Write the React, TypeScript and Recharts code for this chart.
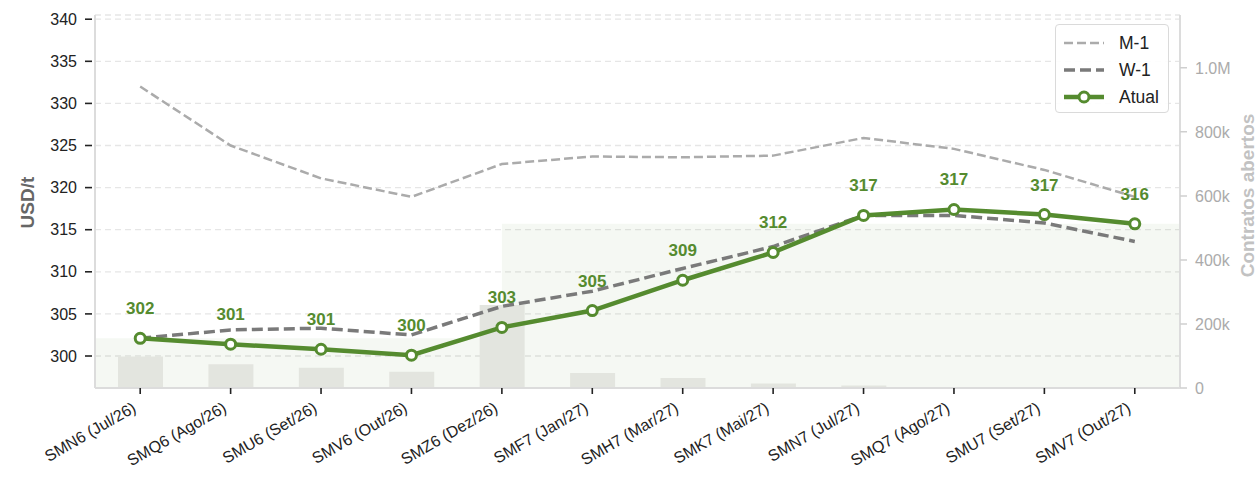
import React from 'react';
import {
  ComposedChart,
  Line,
  Bar,
  XAxis,
  YAxis,
  CartesianGrid,
  ReferenceArea,
  LabelList,
  Legend,
} from 'recharts';

// ---------- data ----------
const contracts = [
  'SMN6 (Jul/26)',
  'SMQ6 (Ago/26)',
  'SMU6 (Set/26)',
  'SMV6 (Out/26)',
  'SMZ6 (Dez/26)',
  'SMF7 (Jan/27)',
  'SMH7 (Mar/27)',
  'SMK7 (Mai/27)',
  'SMN7 (Jul/27)',
  'SMQ7 (Ago/27)',
  'SMU7 (Set/27)',
  'SMV7 (Out/27)',
];
const atual = [302.1, 301.4, 300.8, 300.1, 303.4, 305.4, 309.0, 312.3, 316.7, 317.4, 316.8, 315.7];
const w1 = [302.1, 303.1, 303.3, 302.5, 305.9, 307.7, 310.4, 313.0, 316.7, 316.7, 315.8, 313.6];
const m1 = [332.0, 325.0, 321.1, 318.9, 322.8, 323.7, 323.6, 323.8, 325.9, 324.6, 322.1, 318.9];
const openInterest = [98000, 74000, 63000, 51000, 259000, 47000, 31000, 14000, 8000, 0, 0, 0];

const priceTicks = [300, 305, 310, 315, 320, 325, 330, 335, 340];
const oiTicks = [0, 200000, 400000, 600000, 800000, 1000000];
const priceDomain = [296.2, 340.5];
const oiDomain = [0, 1165000];
const stepIndex = 4; // fill changes level at SMZ6

const data = contracts.map((c, i) => ({
  idx: i,
  contract: c,
  atual: atual[i],
  w1: w1[i],
  m1: m1[i],
  oi: openInterest[i],
}));

// ---------- styles / layout ----------
const FONT = '"Liberation Sans", Arial, Helvetica, sans-serif';
const GREEN = '#558b2f';
const W1_COLOR = '#7a7a7a';
const M1_COLOR = '#ababab';
const SPINE = '#dcdcdc';
const CHART_W = 1259;
const CHART_H = 478;
const MARGIN_TOP = 15;
const X_AXIS_H = 90;
const LEFT_AXIS_W = 95;
const RIGHT_AXIS_W = 79;
const PLOT_MID_Y = MARGIN_TOP + (CHART_H - MARGIN_TOP - X_AXIS_H) / 2;

const fmtOi = (v: number) => (v === 0 ? '0' : v >= 1000000 ? `${(v / 1000000).toFixed(1)}M` : `${v / 1000}k`);

const XTick = (props: any) => {
  const { x, y, payload } = props;
  return (
    <g transform={`translate(${x - 3},${y + 11}) rotate(-30)`}>
      <text x={0} y={0} textAnchor="end" fontSize={16} fill="#222" fontFamily={FONT}>
        {payload.value}
      </text>
    </g>
  );
};

const AxisTitle = ({ cx, cy, text, color }: { cx: number; cy: number; text: string; color: string }) => (
  <text
    x={cx}
    y={cy}
    transform={`rotate(-90 ${cx} ${cy})`}
    textAnchor="middle"
    dominantBaseline="central"
    fontSize={19}
    fontWeight={700}
    fill={color}
    fontFamily={FONT}
  >
    {text}
  </text>
);

const LeftTitle = () => <AxisTitle cx={27.5} cy={PLOT_MID_Y + 1} text="USD/t" color="#666" />;
const RightTitle = () => (
  <AxisTitle cx={CHART_W - 12} cy={PLOT_MID_Y - 6} text="Contratos abertos" color="#c2c2c2" />
);

const ValueLabel = (p: any) => {
  const x = p.x ?? p.viewBox?.x;
  const y = p.y ?? p.viewBox?.y;
  if (x == null || y == null || p.value == null) return null;
  return (
    <text x={x} y={y - 24} textAnchor="middle" fontSize={17} fontWeight={700} fill={GREEN} fontFamily={FONT}>
      {Math.round(Number(p.value))}
    </text>
  );
};

const legendItems = [
  { name: 'M-1', color: M1_COLOR, width: 2.5, dash: '9 4', marker: false },
  { name: 'W-1', color: W1_COLOR, width: 3.5, dash: '11 5', marker: false },
  { name: 'Atual', color: GREEN, width: 4.5, dash: undefined, marker: true },
];

const LegendBox = () => (
  <div
    style={{
      border: '1.5px solid #dadada',
      borderRadius: 4,
      background: 'rgba(255,255,255,0.92)',
      padding: '4px 8px 4px 8px',
      boxSizing: 'border-box',
      width: 114,
      height: 89,
      fontFamily: FONT,
    }}
  >
    {legendItems.map((it) => (
      <div key={it.name} style={{ display: 'flex', alignItems: 'center', height: 27 }}>
        <svg width={40} height={16} style={{ display: 'block' }}>
          <line x1={0} y1={8} x2={40} y2={8} stroke={it.color} strokeWidth={it.width} strokeDasharray={it.dash} />
          {it.marker && <circle cx={20} cy={8} r={5} fill="#fff" stroke={it.color} strokeWidth={3} />}
        </svg>
        <span style={{ marginLeft: 15, fontSize: 17.5, color: '#222', lineHeight: '18px' }}>{it.name}</span>
      </div>
    ))}
  </div>
);

export default function App() {
  return (
    <div style={{ width: CHART_W, height: CHART_H, fontFamily: FONT }}>
      <style>{'body{margin:0;overflow:hidden}.recharts-surface{overflow:visible}'}</style>
      <ComposedChart
        width={CHART_W}
        height={CHART_H}
        data={data}
        margin={{ top: MARGIN_TOP, right: 0, bottom: 0, left: 0 }}
      >
        <CartesianGrid
          xAxisId="cat"
          yAxisId="left"
          vertical={false}
          stroke="#e6e6e6"
          strokeWidth={1.3}
          strokeDasharray="6 4"
        />
        <XAxis
          xAxisId="cat"
          dataKey="contract"
          type="category"
          interval={0}
          height={X_AXIS_H}
          tickSize={10}
          tickMargin={2}
          axisLine={{ stroke: SPINE, strokeWidth: 2 }}
          tickLine={{ stroke: '#222', strokeWidth: 1.6, strokeDasharray: '0 4 6 100' }}
          tick={<XTick />}
        />
        <XAxis xAxisId="num" dataKey="idx" type="number" domain={[-0.5, 11.5]} allowDataOverflow hide />
        <YAxis
          yAxisId="left"
          orientation="left"
          width={LEFT_AXIS_W}
          domain={priceDomain}
          allowDataOverflow
          ticks={priceTicks}
          tickSize={10}
          tickMargin={8}
          axisLine={{ stroke: SPINE, strokeWidth: 2 }}
          tickLine={{ stroke: '#222', strokeWidth: 1.6, strokeDasharray: '7 100' }}
          tick={{ fill: '#222', fontSize: 16, fontFamily: FONT }}
          label={<LeftTitle />}
        />
        <YAxis
          yAxisId="right"
          orientation="right"
          width={RIGHT_AXIS_W}
          domain={oiDomain}
          allowDataOverflow
          ticks={oiTicks}
          tickFormatter={fmtOi}
          tickSize={9}
          tickMargin={6}
          axisLine={{ stroke: SPINE, strokeWidth: 2 }}
          tickLine={{ stroke: '#cfcfcf', strokeWidth: 1.5, strokeDasharray: '0 2 7 100' }}
          tick={{ fill: '#ababab', fontSize: 16, fontFamily: FONT, textAnchor: 'start' }}
          label={<RightTitle />}
        />
        <ReferenceArea
          xAxisId="num"
          yAxisId="left"
          x1={-0.5}
          x2={stepIndex}
          y1={priceDomain[0]}
          y2={atual[0]}
          fill={GREEN}
          fillOpacity={0.06}
          stroke="none"
        />
        <ReferenceArea
          xAxisId="num"
          yAxisId="left"
          x1={stepIndex}
          x2={11.5}
          y1={priceDomain[0]}
          y2={atual[atual.length - 1]}
          fill={GREEN}
          fillOpacity={0.06}
          stroke="none"
        />
        <Bar
          xAxisId="cat"
          yAxisId="right"
          dataKey="oi"
          name="Contratos abertos"
          fill="#e3e5df"
          barSize={45}
          legendType="none"
          isAnimationActive={false}
        />
        <Line
          xAxisId="cat"
          yAxisId="left"
          type="linear"
          dataKey="m1"
          name="M-1"
          stroke={M1_COLOR}
          strokeWidth={2.5}
          strokeDasharray="9 4"
          dot={false}
          activeDot={false}
          isAnimationActive={false}
        />
        <Line
          xAxisId="cat"
          yAxisId="left"
          type="linear"
          dataKey="w1"
          name="W-1"
          stroke={W1_COLOR}
          strokeWidth={3.5}
          strokeDasharray="11 5"
          dot={false}
          activeDot={false}
          isAnimationActive={false}
        />
        <Line
          xAxisId="cat"
          yAxisId="left"
          type="linear"
          dataKey="atual"
          name="Atual"
          stroke={GREEN}
          strokeWidth={4.5}
          dot={{ r: 5, fill: '#fff', stroke: GREEN, strokeWidth: 3 }}
          activeDot={false}
          isAnimationActive={false}
        >
          <LabelList dataKey="atual" content={<ValueLabel />} />
        </Line>
        <Legend
          layout="vertical"
          align="center"
          verticalAlign="middle"
          content={<LegendBox />}
          wrapperStyle={{ left: 1055, top: 24, width: 114, height: 89 }}
        />
      </ComposedChart>
    </div>
  );
}
